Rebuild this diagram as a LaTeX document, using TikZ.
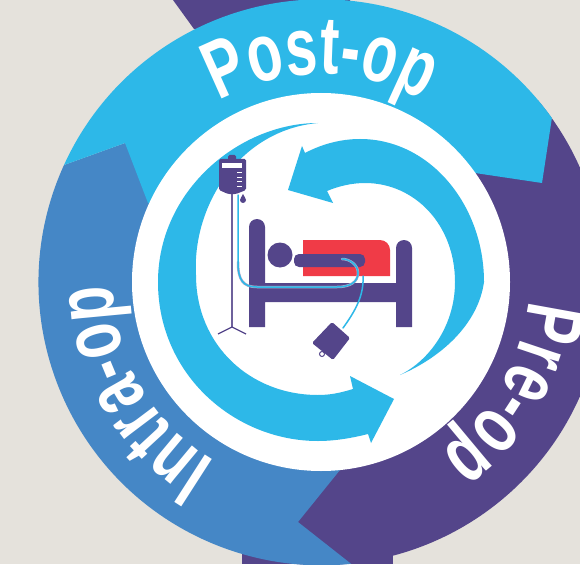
\documentclass[tikz,border=0pt]{standalone}
\usepackage{fontspec}
\usepackage{xcolor}
\usetikzlibrary{decorations.text}
\newfontfamily\ringfont[FakeStretch=0.7]{Liberation Sans Bold}
\definecolor{paper}{HTML}{E5E2DC}
\definecolor{preop}{HTML}{54458A}
\definecolor{intraop}{HTML}{4587C6}
\definecolor{postop}{HTML}{2DB8E8}
\definecolor{blanket}{HTML}{F03B47}

\begin{document}
\begin{tikzpicture}[x=1pt, y=-1pt,
  ringlabel/.style={decorate, decoration={text along path, text align=center,
    text={|\ringfont\fontsize{82}{82}\selectfont\color{white}|#1}}},
  tube/.style={draw=postop, line width=1.5pt, line cap=round},
  mark line/.style={draw=white, line width=0.9pt}]
\useasboundingbox (0,0) rectangle (580,564);
\clip (0,0) rectangle (580,564);
\coordinate (hub) at (321,282);
\fill[paper] (0,0) rectangle (580,564);
% outer ring
\fill[preop] (173,0) -- (194,29) -- (350,20) -- (350,0) -- cycle;
\fill[preop] (242,545) rectangle (393,564);
\fill[preop] (hub) -- ([shift={(-40:283)}]hub) arc[start angle=-40, end angle=100, radius=283] -- cycle;
\fill[intraop] (64,165) arc[start angle=204.5, end angle=84, radius=283]
  -- (298,522) -- (340,470) -- (hub) -- (125,143) -- cycle;
\fill[postop] (64,165) arc[start angle=204.5, end angle=324.5, radius=283]
  -- (542,183) -- (475,173) -- (hub) -- (148,203) -- (125,143) -- cycle;
\fill[white] (hub) circle[radius=189];
% ring labels
\path[ringlabel=Post-op] ([shift={(230:208)}]hub) arc[start angle=230, end angle=310, radius=208];
\path[ringlabel=Pre-op] ([shift={(-10:208)}]hub) arc[start angle=-10, end angle=70, radius=208];
\path[ringlabel=Intra-op] ([shift={(110:208)}]hub) arc[start angle=110, end angle=190, radius=208];
% inner arrows
\fill[postop] (318,123) .. controls (240,123) and (158,190) .. (158,282)
  .. controls (158,375) and (235,441) .. (318,441)
  .. controls (335,441) and (352,438) .. (368,434)
  -- (371,443) -- (394,399) -- (350,376) -- (353,389)
  .. controls (340,393) and (330,395) .. (318,395)
  .. controls (250,395) and (196,345) .. (196,275)
  .. controls (192,205) and (240,130) .. (318,123) -- cycle;
\fill[postop] (288,190) -- (302,146) -- (305,153)
  .. controls (322,144) and (341,139) .. (360,139)
  .. controls (430,139) and (484,205) .. (484,282)
  .. controls (478,325) and (440,358) .. (400,375)
  .. controls (430,360) and (455,325) .. (455,282)
  .. controls (455,225) and (415,183) .. (365,183)
  .. controls (352,183) and (339,186) .. (327,191)
  -- (333,203) -- cycle;
% bed
\fill[preop] (249,327) -- (249,227) arc[start angle=180, end angle=360, radius=8] -- (265,283)
  -- (396,283) -- (396,248) arc[start angle=180, end angle=360, radius=8] -- (412,327) -- (396,327)
  -- (396,302) -- (265,302) -- (265,327) -- cycle;
\fill[blanket] (303,240) -- (380,240) arc[start angle=270, end angle=360, radius=10] -- (390,276) -- (303,276) -- cycle;
\fill[preop] (280,255) circle[radius=12.5];
\fill[preop, rounded corners=5pt] (294,254) rectangle (365,267);
% drip stand
\draw[preop!85!white, line width=2pt] (232,192) -- (232,327);
\draw[preop, line width=1.3pt] (218,334) -- (232,327) -- (246,334);
\fill[preop, rounded corners=1.5pt] (228,161) -- (228,155) -- (236,155) -- (236,161) -- cycle;
\fill[preop, rounded corners=1.5pt] (219,159) -- (246,159) -- (246,190) -- (236,194) -- (228,194) -- (219,190) -- cycle;
\fill[white] (222,163) rectangle (242,168);
\foreach \y in {172,177,181,186} \draw[mark line] (237,\y) -- (242,\y);
\fill[preop] (243,194) .. controls (244,197) and (246,198) .. (246,200) arc[start angle=0, end angle=180, radius=3] .. controls (240,198) and (242,197) .. (243,194);
% tubes
\draw[tube, draw=preop!45!white, line width=2.5pt] (238,262) .. controls (238,280) and (243,287) .. (257,287) -- (337,287) .. controls (350,287) and (358,282) .. (358,273) .. controls (358,265) and (350,259) .. (342,259);
\draw[tube] (238,195) -- (238,262) .. controls (238,280) and (243,287) .. (257,287) -- (337,287) .. controls (350,287) and (358,282) .. (358,273) .. controls (358,265) and (350,259) .. (342,259);
\draw[tube] (363,276) .. controls (364,295) and (356,310) .. (343,328);
% bag
\fill[preop, rounded corners=1.5pt] (332,322) -- (350,338) -- (333,360) -- (312,343) -- cycle;
\draw[preop, line width=1pt] (322,354) circle[radius=2.5];
\end{tikzpicture}
\end{document}
